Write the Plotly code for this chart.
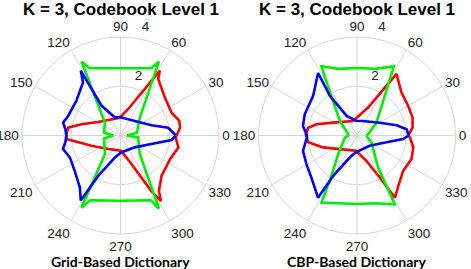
import plotly.graph_objects as go

# ---------------- data (theta in degrees, r) ----------------
titles = ["K = 3, Codebook Level 1", "K = 3, Codebook Level 1"]
captions = ["Grid-Based Dictionary", "CBP-Based Dictionary"]
angle_ticks = [0, 30, 60, 90, 120, 150, 180, 210, 240, 270, 300, 330]
radial_ticks = [2, 4]
radial_tick_text = ["2", "4"]

# Grid-based dictionary
grid_red_theta = [0, 7.5, 14, 24, 40.5, 56.3, 58.7, 74, 93, 148.7, 164, 171.5, 178.7, 183.7, 199.5, 228, 272, 291, 299, 301.7, 304.7, 315.4, 334.5, 348.4, 358, 360]
grid_red_r = [2.28, 2.44, 2.46, 2.27, 2.37, 2.76, 3.08, 1.11, 0.72, 1.06, 1.65, 2.15, 2.2, 2.2, 1.25, 0.74, 0.62, 1.24, 2.58, 3.13, 2.74, 2.34, 2.23, 2.4, 2.24, 2.28]

grid_green_theta = [0, 9.6, 42.8, 62.5, 65.5, 90, 114.5, 117.8, 140.4, 170, 180, 190, 230, 241.6, 245, 270, 295, 297.8, 316, 354, 360]
grid_green_r = [0.25, 0.68, 1.07, 3.38, 3.0, 2.73, 3.0, 3.39, 0.82, 0.68, 0.29, 0.68, 0.98, 3.33, 2.9, 2.65, 2.9, 3.35, 1.09, 0.72, 0.25]

grid_blue_theta = [0, 3, 9.3, 18.3, 45.6, 93, 107, 122.5, 121.5, 125.2, 141.8, 159.5, 167.4, 173.5, 180, 186.5, 193.3, 203.3, 217.7, 232, 238.5, 241, 255.8, 272, 320, 344.6, 355, 360]
grid_blue_r = [2.24, 2.15, 1.96, 1.33, 0.83, 0.75, 0.76, 1.43, 3.09, 2.64, 2.28, 2.27, 2.39, 2.25, 2.2, 2.25, 2.4, 2.24, 2.35, 2.68, 3.09, 1.9, 0.92, 0.69, 0.75, 1.3, 2.08, 2.24]

# CBP-based dictionary
cbp_red_theta = [0, 8, 17.8, 30, 44, 57.3, 68.4, 105, 151.6, 164.5, 171, 178.6, 188, 199.3, 218.5, 266, 290.3, 298.5, 301.4, 309.2, 322.6, 336.6, 348, 358, 360]
cbp_red_r = [2.08, 2.28, 2.37, 2.4, 2.51, 2.97, 1.22, 0.61, 1.1, 1.71, 2.01, 2.08, 2.0, 1.46, 0.89, 0.62, 1.1, 1.94, 2.96, 2.65, 2.36, 2.41, 2.34, 2.15, 2.08]

cbp_green_theta = [0, 6, 33.6, 61.9, 75, 90, 105, 117.2, 122, 139.5, 172, 180, 190, 224.7, 239, 242.1, 255, 270, 285, 298.8, 303.4, 334.6, 354, 360]
cbp_green_r = [0.4, 0.45, 0.95, 3.18, 2.8, 2.74, 2.8, 3.16, 2.07, 0.91, 0.36, 0.35, 0.5, 1.07, 2.15, 3.08, 2.85, 2.78, 2.85, 3.19, 1.56, 0.65, 0.4, 0.4]

cbp_blue_theta = [0, 7.2, 14.5, 29.4, 67.5, 94, 117.8, 124.4, 121.9, 137.9, 157.8, 170, 178.6, 182, 195.8, 209.5, 222.7, 237.9, 239.5, 252, 266, 321, 347, 355.6, 360]
cbp_blue_r = [2.1, 2.03, 1.66, 1.06, 0.64, 0.6, 0.9, 1.95, 2.99, 2.4, 2.29, 2.23, 2.05, 2.03, 2.28, 2.36, 2.52, 2.98, 1.9, 0.93, 0.69, 0.66, 1.23, 1.88, 2.1]

# ---------------- figure ----------------
W, H = 471, 269
RED, GREEN, BLUE = "#ff0000", "#00ee00", "#0000ff"
GRIDC = "#d6d6d6"
TICKFONT = dict(family="Liberation Sans, Arial", size=13.5, color="#222")

cx = [120.5, 357.0]
cy = 135.5
R = 98.5          # radius of the data rings (r = 4)
RB = 114.0        # radius of the overlay used for radial tick labels
RMAX = 4.0
RMAX_B = RMAX * RB / R

fig = go.Figure()
panels = [
    ("polar", "polar3", [(grid_red_theta, grid_red_r, RED), (grid_green_theta, grid_green_r, GREEN), (grid_blue_theta, grid_blue_r, BLUE)]),
    ("polar2", "polar4", [(cbp_red_theta, cbp_red_r, RED), (cbp_green_theta, cbp_green_r, GREEN), (cbp_blue_theta, cbp_blue_r, BLUE)]),
]
for sub, lab_sub, series in panels:
    for th, rr, col in series:
        fig.add_trace(go.Scatterpolar(theta=th, r=rr, mode="lines", subplot=sub,
                                      line=dict(color=col, width=2.6), showlegend=False,
                                      hoverinfo="skip"))
    # radial tick labels, placed like MATLAB's (just outside each ring near 80 deg)
    fig.add_trace(go.Scatterpolar(r=[t + 0.5 for t in radial_ticks], theta=[73, 77],
                                  mode="text", text=radial_tick_text, textfont=TICKFONT,
                                  subplot=lab_sub, showlegend=False, hoverinfo="skip",
                                  cliponaxis=False))


def polar_layout(i):
    return dict(
        domain=dict(x=[(cx[i] - R) / W, (cx[i] + R) / W], y=[(H - cy - R) / H, (H - cy + R) / H]),
        bgcolor="white",
        radialaxis=dict(range=[0, RMAX], tickvals=radial_ticks, showline=False, ticks="",
                        showticklabels=False, gridcolor=GRIDC, gridwidth=1, angle=80),
        angularaxis=dict(tickvals=angle_ticks, ticktext=[str(a) for a in angle_ticks],
                         direction="counterclockwise", rotation=0, showline=True,
                         linecolor=GRIDC, linewidth=1, gridcolor=GRIDC, gridwidth=1, ticks="",
                         tickfont=TICKFONT),
    )


def label_layout(i):
    return dict(
        domain=dict(x=[max(0, (cx[i] - RB) / W), min(1, (cx[i] + RB) / W)],
                    y=[(H - cy - RB) / H, (H - cy + RB) / H]),
        bgcolor="rgba(0,0,0,0)",
        radialaxis=dict(range=[0, RMAX_B], visible=False),
        angularaxis=dict(direction="counterclockwise", rotation=0, visible=False),
    )

annotations = []
for i in range(2):
    annotations.append(dict(text="<b>%s</b>" % titles[i], x=cx[i] / W, y=1 - 9.5 / H,
                            xref="paper", yref="paper", showarrow=False, xanchor="center", yanchor="middle",
                            font=dict(family="Liberation Sans, Arial", size=17, color="black")))
    annotations.append(dict(text="<b>%s</b>" % captions[i], x=cx[i] / W, y=1 - 261 / H,
                            xref="paper", yref="paper", showarrow=False, xanchor="center", yanchor="middle",
                            font=dict(family="Lato", size=14, color="black")))

fig.update_layout(width=W, height=H, margin=dict(l=0, r=0, t=0, b=0),
                  paper_bgcolor="white", plot_bgcolor="white",
                  polar=polar_layout(0), polar2=polar_layout(1),
                  polar3=label_layout(0), polar4=label_layout(1),
                  annotations=annotations)

fig.write_html("out.html", config={"displayModeBar": False},
               post_script="document.body.style.margin='0px';document.body.style.overflow='hidden';")
